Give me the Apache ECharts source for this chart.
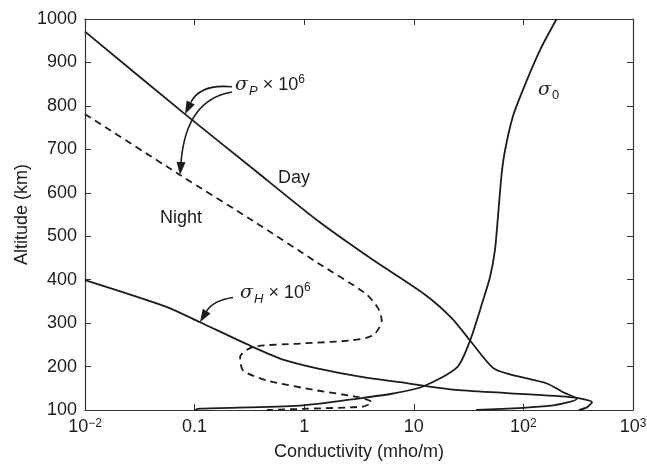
<!DOCTYPE html>
<html>
<head>
<meta charset="utf-8">
<script src="https://cdn.jsdelivr.net/npm/echarts@6/dist/echarts.min.js"></script>
<style>
  html, body { margin: 0; padding: 0; background: #fff; }
  #main { width: 647px; height: 466px; }
</style>
</head>
<body>
<div id="main"></div>
<script>
// sigma_P x 1e6, day
var dayX = [0.01, 0.0817, 0.334, 1.34, 4.16, 12.6, 22.3, 32.6, 52.8, 75.5, 164, 230, 308, 180, 37];
var dayY = [971, 781, 657, 535, 447, 366, 311, 260, 197, 182, 161, 141, 126, 110, 100];
// sigma_P x 1e6, night
var nightX = [0.01, 0.0736, 0.334, 1.34, 3.59, 4.7, 5.1, 4.25, 2.62, 0.91, 0.34, 0.26, 0.277, 0.457, 1.31, 3.03, 4.14, 3.44, 1.06, 0.457];
var nightY = [781, 641, 537, 438, 369, 335, 306, 272, 260, 253, 245, 222, 191, 168, 145, 130, 118, 108, 103, 100];
// sigma_H x 1e6
var hallX = [0.01, 0.056, 0.112, 0.341, 0.64, 1.31, 3.23, 7.48, 22.8, 70.8, 284, 423, 380, 320];
var hallY = [399, 337, 302, 245, 216, 196, 177, 164, 147, 139, 129, 118, 106, 100];
// sigma_0
var sig0X = [0.1, 0.112, 0.91, 3.23, 6.46, 12.1, 24.8, 32.6, 42.9, 49.6, 55, 58.6, 60.3, 63.4, 68, 80, 99, 142, 201];
var sig0Y = [100, 103, 110, 127, 138, 154, 198, 260, 353, 406, 468, 545, 583, 645, 698, 775, 837, 929, 1000];

var xTicks = [0.01, 0.1, 1, 10, 100, 1000];
var yTicks = [100, 200, 300, 400, 500, 600, 700, 800, 900, 1000];

function pairs(xs, ys) {
    var out = [];
    for (var i = 0; i < xs.length; i++) out.push([xs[i], ys[i]]);
    return out;
}

var FONT = '"Liberation Sans", Arial, sans-serif';
var INK = '#1c1c1c';

var chart = echarts.init(document.getElementById('main'));

function xLabel(v) {
    var p = Math.round(Math.log10(v));
    if (p === -1) return '0.1';
    if (p === 0) return '1';
    if (p === 1) return '10';
    return '10{s|' + (p < 0 ? '\u2212' + (-p) : p) + '}';
}

var lineBase = { type: 'line', showSymbol: false, symbol: 'none', smooth: 0.25, animation: false };
var frame = { lineStyle: { color: '#333', width: 1.2 } };
var tick = { show: true, inside: true, length: 6, lineStyle: { color: '#333' } };

var option = {
    backgroundColor: '#fff',
    animation: false,
    grid: { left: 85, right: 14, top: 19, bottom: 56, outerBoundsMode: 'none' },
    xAxis: [{
        type: 'log', logBase: 10, min: xTicks[0], max: xTicks[xTicks.length - 1],
        name: 'Conductivity (mho/m)', nameLocation: 'middle', nameGap: 33, nameMoveOverlap: false,
        nameTextStyle: { fontSize: 18, color: INK, fontFamily: FONT },
        axisLine: frame, axisTick: tick,
        minorTick: { show: false }, splitLine: { show: false },
        axisLabel: {
            fontSize: 18, color: INK, fontFamily: FONT, margin: 8,
            formatter: xLabel,
            rich: { s: { fontSize: 12, verticalAlign: 'top', fontFamily: FONT, color: INK } }
        }
    }, {
        type: 'log', logBase: 10, min: xTicks[0], max: xTicks[xTicks.length - 1], position: 'top',
        axisLine: frame, axisTick: tick,
        axisLabel: { show: false }, splitLine: { show: false }
    }],
    yAxis: [{
        type: 'value', min: yTicks[0], max: yTicks[yTicks.length - 1], interval: 100,
        name: 'Altitude (km)', nameLocation: 'middle', nameGap: 54, nameMoveOverlap: false,
        nameTextStyle: { fontSize: 18, color: INK, fontFamily: FONT },
        axisLine: Object.assign({ show: true }, frame), axisTick: tick,
        splitLine: { show: false },
        axisLabel: { fontSize: 18, color: INK, fontFamily: FONT, margin: 8,
            formatter: function (v) { return String(v); } }
    }, {
        type: 'value', min: yTicks[0], max: yTicks[yTicks.length - 1], interval: 100, position: 'right',
        axisLine: Object.assign({ show: true }, frame), axisTick: tick,
        axisLabel: { show: false }, splitLine: { show: false }
    }],
    series: [
        Object.assign({}, lineBase, { name: 'Day', data: pairs(dayX, dayY),
            lineStyle: { color: INK, width: 1.8 } }),
        Object.assign({}, lineBase, { name: 'Night', data: pairs(nightX, nightY),
            lineStyle: { color: INK, width: 1.8, type: [7, 5] } }),
        Object.assign({}, lineBase, { name: 'Hall', data: pairs(hallX, hallY),
            lineStyle: { color: INK, width: 1.8 } }),
        Object.assign({}, lineBase, { name: 'sigma0', data: pairs(sig0X, sig0Y),
            lineStyle: { color: INK, width: 1.8 } })
    ]
};
chart.setOption(option);

// annotations, anchored in data coordinates
function px(x, y) { return chart.convertToPixel({ seriesIndex: 0 }, [x, y]); }

var symRich = {
    g: { fontSize: 19, fontStyle: 'italic', fontFamily: '"DejaVu Serif", serif', fill: INK },
    b: { fontSize: 13, fontStyle: 'italic', fontFamily: FONT, fill: INK, padding: [12, 0, 0, 1] },
    z: { fontSize: 13, fontFamily: FONT, fill: INK, padding: [12, 0, 0, 1] },
    n: { fontSize: 18, fontFamily: FONT, fill: INK },
    p: { fontSize: 12, fontFamily: FONT, fill: INK, padding: [0, 0, 10, 0] }
};

var labels = [
    { at: [0.234, 848], text: '{g|\u03c3}{b|P}{n| \u00d7 10}{p|6}', align: 'left' },
    { at: [0.26, 369], text: '{g|\u03c3}{b|H}{n| \u00d7 10}{p|6}', align: 'left' },
    { at: [136, 837], text: '{g|\u03c3}{z|0}', align: 'left' },
    { at: [0.0752, 542], text: '{n|Night}', align: 'center' },
    { at: [0.807, 634], text: '{n|Day}', align: 'center' }
];

var arrows = [
    { s: [0.219, 844], c: [0.112, 851], e: [0.0817, 781] },
    { s: [0.219, 832], c: [0.0836, 814], e: [0.0736, 641] },
    { s: [0.224, 359], c: [0.147, 352], e: [0.112, 302] }
];

var g = [];
labels.forEach(function (l) {
    var p = px(l.at[0], l.at[1]);
    g.push({ type: 'text', x: p[0], y: p[1], z: 10,
        style: { text: l.text, rich: symRich, align: l.align, verticalAlign: 'middle' } });
});
arrows.forEach(function (a) {
    var s = px(a.s[0], a.s[1]), c = px(a.c[0], a.c[1]), e = px(a.e[0], a.e[1]);
    var dx = e[0] - c[0], dy = e[1] - c[1], L = Math.sqrt(dx * dx + dy * dy);
    dx /= L; dy /= L;
    var hl = 13, hw = 4.5;
    var bx = e[0] - dx * hl, by = e[1] - dy * hl;
    g.push({ type: 'bezierCurve', z: 10,
        shape: { x1: s[0], y1: s[1], cpx1: c[0], cpy1: c[1], x2: bx, y2: by },
        style: { stroke: INK, lineWidth: 1.6, fill: null } });
    g.push({ type: 'polygon', z: 10,
        shape: { points: [[e[0], e[1]], [bx - dy * hw, by + dx * hw], [bx + dy * hw, by - dx * hw]] },
        style: { fill: INK } });
});
chart.setOption({ graphic: g });
</script>
</body>
</html>
